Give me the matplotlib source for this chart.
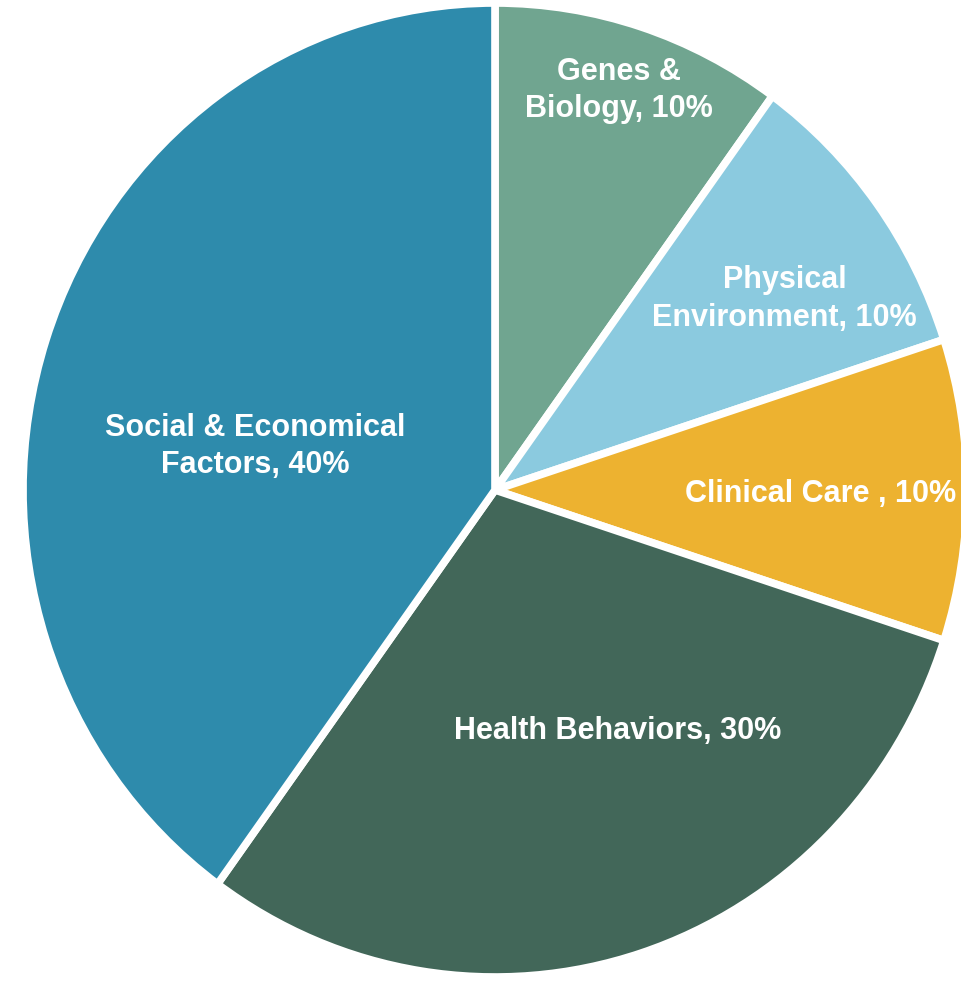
import matplotlib
matplotlib.use("Agg")
import matplotlib.pyplot as plt

# slice data, clockwise from 12 o'clock
labels = ["Genes &\nBiology, 10%", "Physical\nEnvironment, 10%", "Clinical Care , 10%",
          "Health Behaviors, 30%", "Social & Economical\nFactors, 40%"]
shares = [10, 10, 10, 30, 40]
colors = ["#70a590", "#8bcadf", "#edb230", "#426759", "#2e8bac"]

# label centres (x, y) in the pie's unit coordinates
label_xy = [(0.262, 0.82), (0.613, 0.392), (0.690, -0.008), (0.260, -0.495), (-0.509, 0.089)]

W, H = 962, 981
fig = plt.figure(figsize=(W / 100, H / 100), dpi=100)
ax = fig.add_axes([0, 0, 1, 1])

ax.pie(shares, colors=colors, startangle=90, counterclock=False,
       wedgeprops=dict(edgecolor="white", linewidth=5.5))

# pie centre at pixel (495, 490), radii ~472 x 487 px (slightly stretched screenshot)
cx, cy, rx, ry = 495, 490, 472, 487
ax.set_aspect("auto")
ax.set_xlim(-cx / rx, (W - cx) / rx)
ax.set_ylim((cy - H) / ry, cy / ry)
ax.axis("off")

for txt, (x, y) in zip(labels, label_xy):
    ax.text(x, y, txt, ha="center", va="center", color="white", fontsize=22,
            fontweight="bold", family="Liberation Sans", linespacing=1.33)

fig.savefig("out.png", dpi=100)
